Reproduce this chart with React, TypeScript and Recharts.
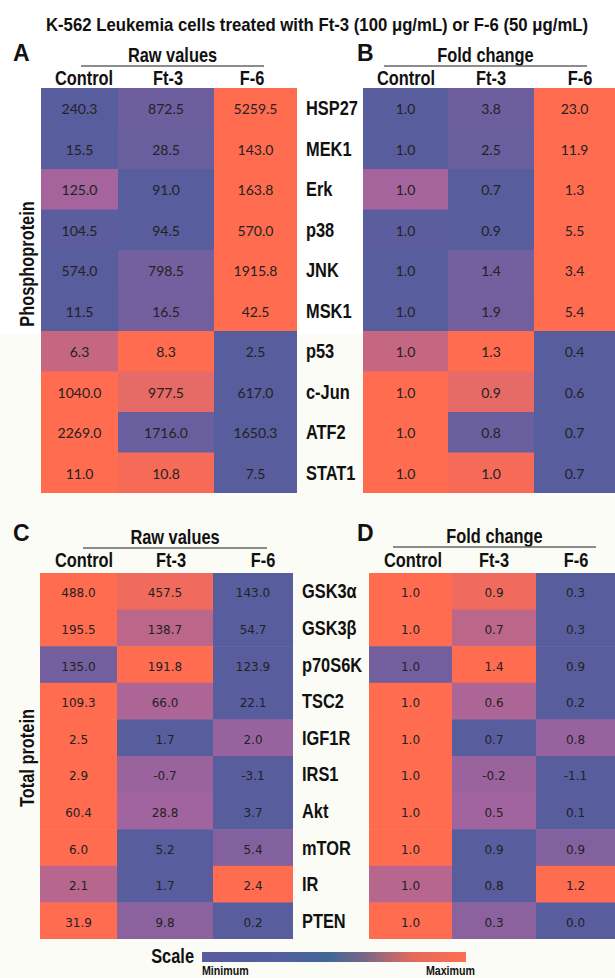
import React from 'react';
import { ScatterChart, Scatter, XAxis, YAxis } from 'recharts';

// Phosphoprotein panel (A raw values, B fold change)
const phosphoRows = ['HSP27', 'MEK1', 'Erk', 'p38', 'JNK', 'MSK1', 'p53', 'c-Jun', 'ATF2', 'STAT1'];
const phosphoRawControl = [240.3, 15.5, 125.0, 104.5, 574.0, 11.5, 6.3, 1040.0, 2269.0, 11.0];
const phosphoRawFt3 = [872.5, 28.5, 91.0, 94.5, 798.5, 16.5, 8.3, 977.5, 1716.0, 10.8];
const phosphoRawF6 = [5259.5, 143.0, 163.8, 570.0, 1915.8, 42.5, 2.5, 617.0, 1650.3, 7.5];
const phosphoFoldControl = [1.0, 1.0, 1.0, 1.0, 1.0, 1.0, 1.0, 1.0, 1.0, 1.0];
const phosphoFoldFt3 = [3.8, 2.5, 0.7, 0.9, 1.4, 1.9, 1.3, 0.9, 0.8, 1.0];
const phosphoFoldF6 = [23.0, 11.9, 1.3, 5.5, 3.4, 5.4, 0.4, 0.6, 0.7, 0.7];

// Total protein panel (C raw values, D fold change)
const totalRows = ['GSK3α', 'GSK3β', 'p70S6K', 'TSC2', 'IGF1R', 'IRS1', 'Akt', 'mTOR', 'IR', 'PTEN'];
const totalRawControl = [488.0, 195.5, 135.0, 109.3, 2.5, 2.9, 60.4, 6.0, 2.1, 31.9];
const totalRawFt3 = [457.5, 138.7, 191.8, 66.0, 1.7, -0.7, 28.8, 5.2, 1.7, 9.8];
const totalRawF6 = [143.0, 54.7, 123.9, 22.1, 2.0, -3.1, 3.7, 5.4, 2.4, 0.2];
const totalFoldControl = [1.0, 1.0, 1.0, 1.0, 1.0, 1.0, 1.0, 1.0, 1.0, 1.0];
const totalFoldFt3 = [0.9, 0.7, 1.4, 0.6, 0.7, -0.2, 0.5, 0.9, 0.8, 0.3];
const totalFoldF6 = [0.3, 0.3, 0.9, 0.2, 0.8, -1.1, 0.1, 0.9, 1.2, 0.0];

const groups = ['Control', 'Ft-3', 'F-6'];

const SANS = "'Liberation Sans', Arial, sans-serif";

// blue -> purple -> orange, blue channel holds up to the middle
const mix = (t: number) => {
  const r = Math.round(88 + 167 * t);
  const g = Math.round(93 + 15 * t);
  const b = Math.round(t < 0.45 ? 158 : 158 - ((t - 0.45) / 0.55) * 78);
  return `rgb(${r},${g},${b})`;
};

interface PanelProps {
  left: number;
  top: number;
  widths: number[];
  rowH: number;
  shown: number[][];
  raw: number[][];
  font: string;
  size: number;
}

// one heat map: each cell is a scatter point drawn as a rectangle
const HeatPanel = ({ left, top, widths, rowH, shown, raw, font, size }: PanelProps) => {
  const total = widths.reduce((s, w) => s + w, 0);
  const rows = shown[0].length;
  const edges = widths.map((_, i) => widths.slice(0, i).reduce((s, w) => s + w, 0));
  const data: any[] = [];
  for (let r = 0; r < rows; r++) {
    const vals = raw.map((col) => col[r]);
    const lo = Math.min(...vals);
    const hi = Math.max(...vals);
    for (let c = 0; c < widths.length; c++) {
      data.push({
        x: edges[c] + widths[c] / 2,
        y: r + 0.5,
        w: widths[c],
        label: shown[c][r].toFixed(1),
        fill: mix((raw[c][r] - lo) / (hi - lo)),
      });
    }
  }
  return (
    <div style={{ position: 'absolute', left, top }}>
      <ScatterChart width={total} height={rows * rowH} margin={{ top: 0, right: 0, bottom: 0, left: 0 }}>
        <XAxis type="number" dataKey="x" domain={[0, total]} allowDataOverflow hide />
        <YAxis type="number" dataKey="y" domain={[0, rows]} allowDataOverflow reversed hide />
        <Scatter
          data={data}
          isAnimationActive={false}
          shape={(p: any) => {
            const d = p.payload;
            return (
              <g>
                <rect x={p.cx - d.w / 2} y={p.cy - rowH / 2} width={d.w + 0.5} height={rowH + 0.5} fill={d.fill} />
                <text x={p.cx} y={p.cy + 6} textAnchor="middle" fontFamily={font} fontSize={size} fill="#222">
                  {d.label}
                </text>
              </g>
            );
          }}
        />
      </ScatterChart>
    </div>
  );
};

// condensed bold text (narrow face squeezed from Liberation Sans Bold)
const NT = ({ x, y, anchor = 'start', size = 20, sx = 0.82, rotate = false, children }: any) => (
  <text
    transform={`translate(${x},${y})${rotate ? ' rotate(-90)' : ''} scale(${sx},1)`}
    textAnchor={anchor}
    fontFamily={SANS}
    fontWeight="bold"
    fontSize={size}
    fill="#111"
  >
    {children}
  </text>
);

const Header = ({ x, y, letter, title, lineX1, lineX2, lineY, colX, colY }: any) => (
  <g>
    <text x={x} y={y} fontFamily={SANS} fontWeight="bold" fontSize={23} fill="#111">{letter}</text>
    <NT x={(lineX1 + lineX2) / 2} y={lineY - 4} anchor="middle">{title}</NT>
    <line x1={lineX1} x2={lineX2} y1={lineY} y2={lineY} stroke="#666" strokeWidth={1.5} />
    {groups.map((g, i) => (
      <NT key={g} x={colX[i]} y={colY} anchor="middle">{g}</NT>
    ))}
  </g>
);

const App = () => {
  const aRowH = 40.5;
  const cRowH = 36.6;
  return (
    <div style={{ position: 'absolute', left: 0, top: 0, width: 615, height: 978, background: '#FCFCF6', overflow: 'hidden' }}>
      <div style={{ position: 'absolute', left: 0, top: 0, width: 615, height: 335, background: '#FFFFFF' }} />
      <HeatPanel left={41} top={88} widths={[77, 96, 83]} rowH={aRowH}
        shown={[phosphoRawControl, phosphoRawFt3, phosphoRawF6]}
        raw={[phosphoRawControl, phosphoRawFt3, phosphoRawF6]} font="Lato, sans-serif" size={14} />
      <HeatPanel left={363} top={88} widths={[85, 86, 81]} rowH={aRowH}
        shown={[phosphoFoldControl, phosphoFoldFt3, phosphoFoldF6]}
        raw={[phosphoRawControl, phosphoRawFt3, phosphoRawF6]} font="Lato, sans-serif" size={14} />
      <HeatPanel left={40} top={573} widths={[77, 96, 80]} rowH={cRowH}
        shown={[totalRawControl, totalRawFt3, totalRawF6]}
        raw={[totalRawControl, totalRawFt3, totalRawF6]} font="'DejaVu Sans', sans-serif" size={12} />
      <HeatPanel left={369} top={573} widths={[83, 84, 79]} rowH={cRowH}
        shown={[totalFoldControl, totalFoldFt3, totalFoldF6]}
        raw={[totalRawControl, totalRawFt3, totalRawF6]} font="'DejaVu Sans', sans-serif" size={12} />

      <svg width={615} height={978} style={{ position: 'absolute', left: 0, top: 0, pointerEvents: 'none' }}>
        <defs>
          <linearGradient id="scaleGrad" x1="0" y1="0" x2="1" y2="0">
            <stop offset="0%" stopColor="#575C9E" />
            <stop offset="30%" stopColor="#555EA0" />
            <stop offset="48%" stopColor="#3E6898" />
            <stop offset="62%" stopColor="#7C6786" />
            <stop offset="80%" stopColor="#E46A5C" />
            <stop offset="100%" stopColor="#FF6E50" />
          </linearGradient>
        </defs>
        <NT x={317} y={31} anchor="middle" size={18} sx={0.93}>
          K-562 Leukemia cells treated with Ft-3 (100 μg/mL) or F-6 (50 μg/mL)
        </NT>

        <Header x={13} y={61} letter="A" title="Raw values" lineX1={81} lineX2={264} lineY={66}
          colX={[84, 168, 252]} colY={85} />
        <Header x={357} y={61} letter="B" title="Fold change" lineX1={384} lineX2={587} lineY={66}
          colX={[406, 491, 580]} colY={85} />
        <Header x={13} y={541} letter="C" title="Raw values" lineX1={83} lineX2={267} lineY={548}
          colX={[84, 171, 263]} colY={567} />
        <Header x={357} y={541} letter="D" title="Fold change" lineX1={393} lineX2={596} lineY={547}
          colX={[413, 494, 576]} colY={567} />

        {phosphoRows.map((r, i) => (
          <NT key={r} x={306} y={88 + aRowH * (i + 0.5) + 7}>{r}</NT>
        ))}
        {totalRows.map((r, i) => (
          <NT key={r} x={302} y={573 + cRowH * (i + 0.5) + 7}>{r}</NT>
        ))}
        <NT x={34} y={264} anchor="middle" rotate>Phosphoprotein</NT>
        <NT x={34} y={758} anchor="middle" rotate>Total protein</NT>
        <NT x={194} y={963} anchor="end">Scale</NT>
        <NT x={202} y={975} size={13}>Minimum</NT>
        <NT x={475} y={975} size={13} anchor="end">Maximum</NT>
        <rect x={202} y={952} width={264} height={10} fill="url(#scaleGrad)" />
      </svg>
    </div>
  );
};

export default App;
